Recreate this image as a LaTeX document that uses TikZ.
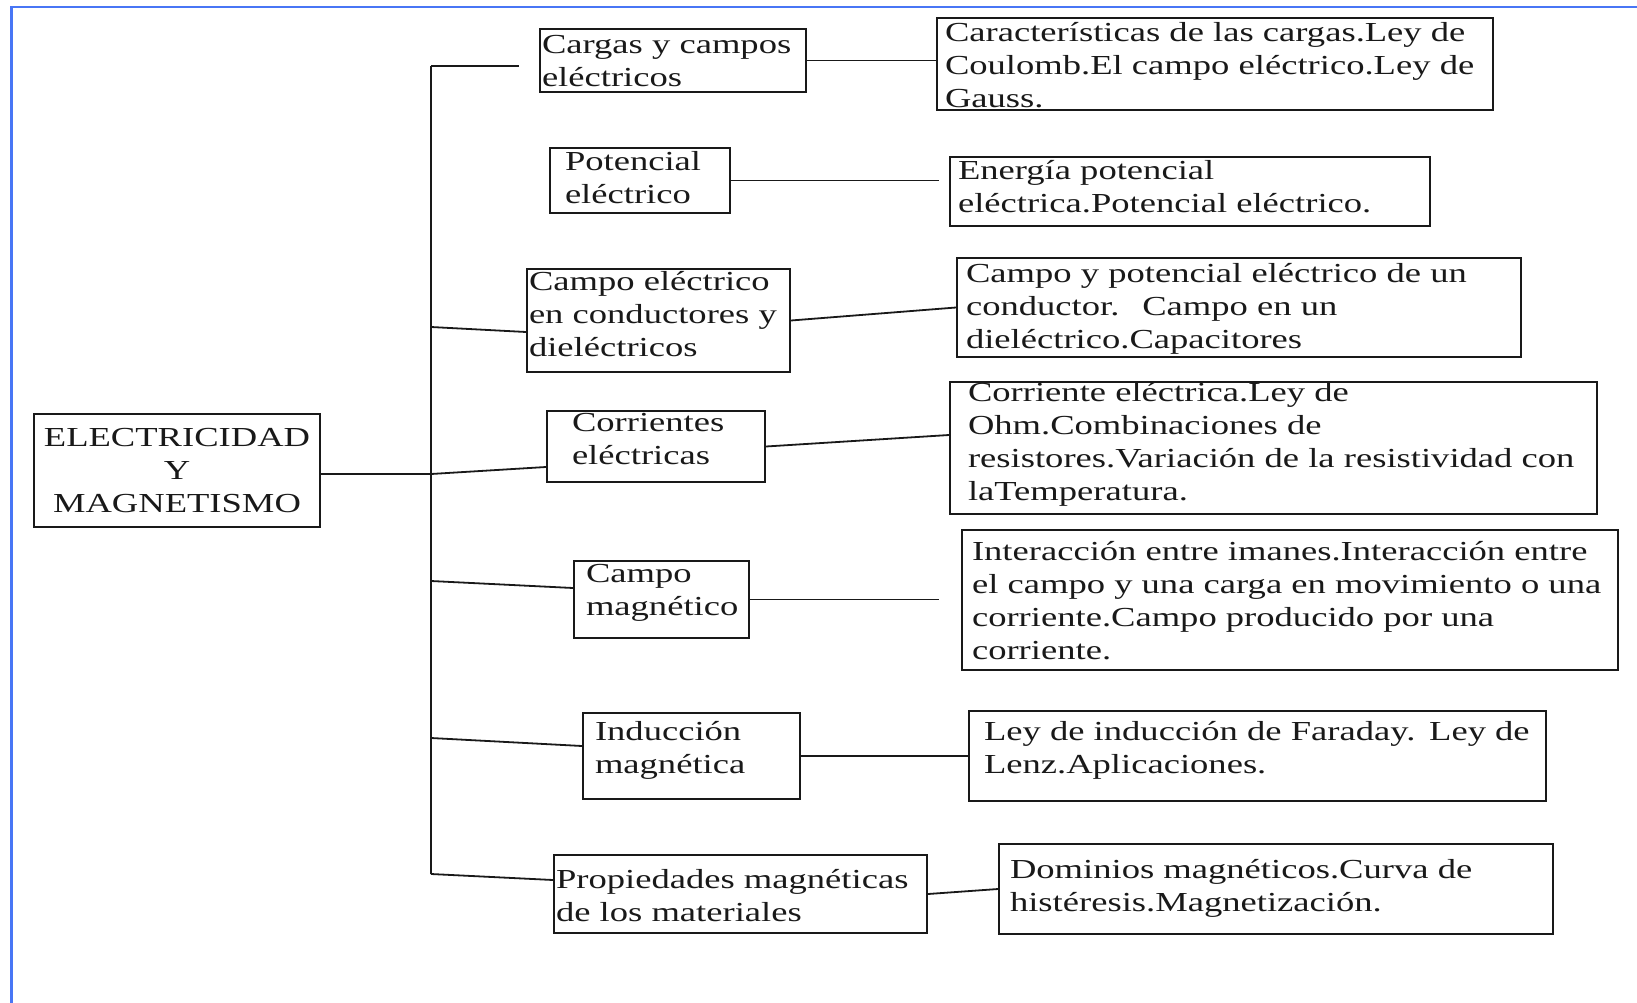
\documentclass[tikz,border=0pt]{standalone}
\usepackage{fontspec}
\setmainfont{Liberation Serif}[FakeStretch=1.33]
\usepackage{tikz}
\usetikzlibrary{calc}
\hyphenpenalty=10000
\exhyphenpenalty=10000
\definecolor{emBlue}{RGB}{72,118,245}
\definecolor{emInk}{RGB}{25,25,25}
\tikzset{
    base/.style={font=\fontsize{27.5}{33}\selectfont, text=emInk},
    raiz/.style={base, rectangle, draw=emInk, line width=2pt, align=center, inner sep=2pt},
    tema/.style={base, rectangle, draw=emInk, line width=2pt, align=left, inner sep=2pt},
    detalle/.style={tema},
    alto/.style 2 args={text height=#1pt, text depth=#2pt},
    rama/.style={draw=emInk, line width=1.8pt},
    marco/.style={draw=emBlue, line width=2.2pt}
}

\begin{document}
\begin{tikzpicture}[x=1pt, y=-1pt]
  \useasboundingbox (0,0) rectangle (1637,1003);
  \draw[marco] (11.5,1003) -- (11.5,7) -- (1637,7);

  % raiz
  \node[raiz, minimum width=286pt, minimum height=113pt] (main) at (177,470.5) {ELECTRICIDAD\\Y\\MAGNETISMO};

  % temas
  \node[tema, minimum width=266pt, alto={23}{36}, text width=262pt] (t1) at (673,60.5) {Cargas y campos\\eléctricos};
  \node[tema, minimum width=180pt, alto={21}{40}, text width=150pt] (t2) at (640,180.5) {Potencial\\eléctrico};
  \node[tema, minimum width=263pt, alto={19}{80}, text width=259pt] (t3) at (658.5,320.5) {Campo eléctrico\\en conductores~y\\dieléctricos};
  \node[tema, minimum width=218pt, alto={18}{49}, text width=168pt] (t4) at (656,446.5) {Corrientes\\eléctricas};
  \node[tema, minimum width=175pt, alto={19}{54}, text width=151pt] (t5) at (661.5,599.5) {Campo\\magnético};
  \node[tema, minimum width=217pt, alto={25}{57}, text width=193pt] (t6) at (691.5,756) {Inducción\\magnética};
  \node[tema, minimum width=373pt, alto={31}{43}, text width=369pt] (t7) at (740.5,894) {Propiedades magnéticas\\de los materiales};

  % detalles
  \node[detalle, minimum width=556pt, alto={21.5}{66.5}, text width=540pt] (r1) at (1215,64) {Características de las cargas.Ley de\\Coulomb.El campo eléctrico.Ley de\\Gauss.};
  \node[detalle, minimum width=480pt, alto={20.3}{44.7}, text width=464pt] (r2) at (1190,191.5) {Energía potencial\\eléctrica.Potencial eléctrico.};
  \node[detalle, minimum width=564pt, alto={22.7}{72.3}, text width=546pt] (r3) at (1239,307.5) {Campo y potencial eléctrico de un\\conductor.~ Campo en un\\dieléctrico.Capacitores};
  \node[detalle, minimum width=647pt, alto={17.7}{110.3}, text width=611pt] (r4) at (1273.5,448) {Corriente eléctrica.Ley de\\Ohm.Combinaciones de\\resistores.Variación de la resistividad~con\\laTemperatura.};
  \node[detalle, minimum width=656pt, alto={28.4}{107.6}, text width=636pt] (r5) at (1290,600) {Interacción entre imanes.Interacción entre\\el campo y una carga en movimiento o~una\\corriente.Campo producido por una\\corriente.};
  \node[detalle, minimum width=577pt, alto={27}{59}, text width=547pt] (r6) at (1257.5,756) {Ley de inducción de Faraday. Ley~de\\Lenz.Aplicaciones.};
  \node[detalle, minimum width=554pt, alto={32.8}{53.2}, text width=532pt] (r7) at (1276,889) {Dominios magnéticos.Curva de\\histéresis.Magnetización.};

  % tronco
  \coordinate (k1) at (431,66);
  \coordinate (k3) at (431,327);
  \coordinate (kc) at (431,474);
  \coordinate (k5) at (431,581);
  \coordinate (k6) at (431,738);
  \coordinate (k7) at (431,874);
  \draw[rama] (k1) -- (k7);
  \draw[rama] (main.east |- kc) -- (kc);

  \draw[rama, shorten >=20pt] (k1) -- (k1 -| t1.west);
  \draw[rama] (k3) -- ([yshift=-11.5pt]t3.west);
  \draw[rama] (kc) -- ([yshift=-20.5pt]t4.west);
  \draw[rama] (k5) -- ([yshift=11.5pt]t5.west);
  \draw[rama] (k6) -- ([yshift=10pt]t6.west);
  \draw[rama] (k7) -- ([yshift=14pt]t7.west);

  \draw[rama] (t1.east) -- (t1.east -| r1.west);
  \draw[rama, shorten >=10pt] (t2.east) -- (t2.east -| r2.west);
  \draw[rama] (t3.east) -- (r3.west);
  \draw[rama] (t4.east) -- ([yshift=13pt]r4.west);
  \draw[rama, shorten >=22pt] (t5.east) -- (t5.east -| r5.west);
  \draw[rama] (t6.east) -- (r6.west);
  \draw[rama] (t7.east) -- (r7.west);
\end{tikzpicture}
\end{document}
